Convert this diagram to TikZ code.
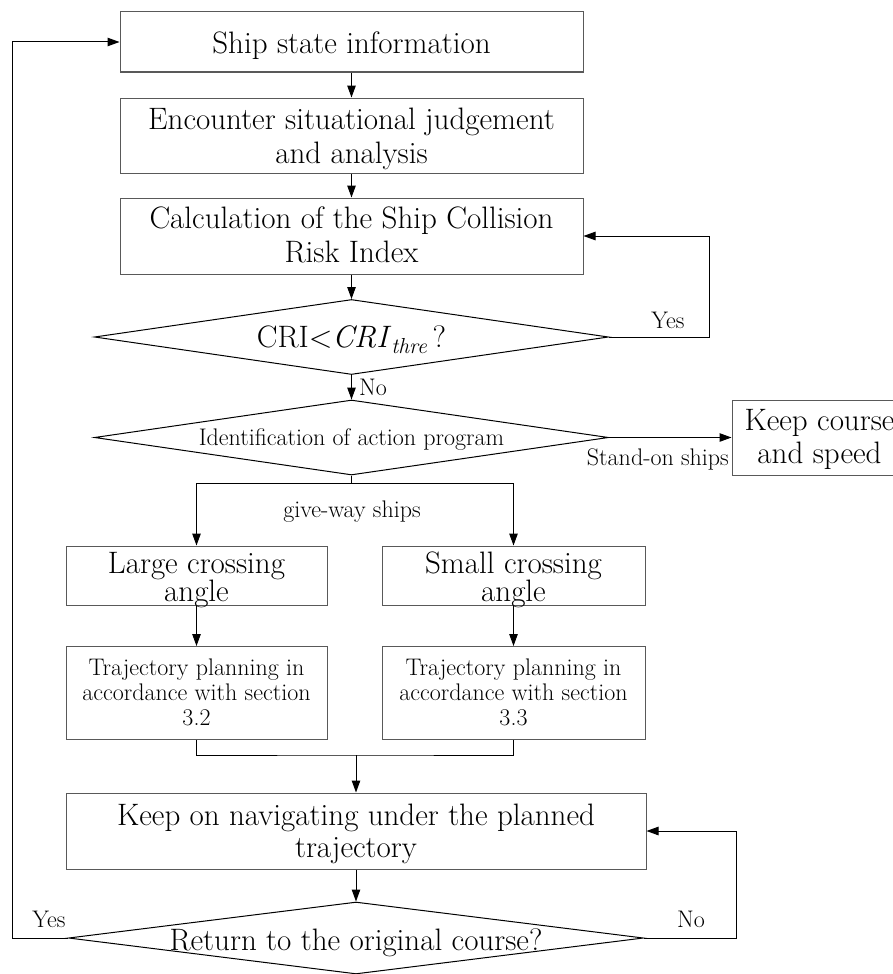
\documentclass[tikz,border=0pt]{standalone}
\usepackage{fontspec}
\usetikzlibrary{arrows.meta,shapes.geometric}
\newcommand\fbig{\fontsize{31}{34}\selectfont}
\newcommand\fsml{\fontsize{24}{25}\selectfont}
\newcommand\mlines[2]{\vtop{\baselineskip=#1\lineskiplimit=-\maxdimen\lineskip=0pt\halign{\hfil##\hfil\cr#2\crcr}}}
\begin{document}
\begin{tikzpicture}[x=1pt,y=-1pt,
  box/.style={draw=black!65, line width=1pt, inner sep=0pt, rectangle},
  dia/.style={draw=black, line width=1pt, inner sep=0pt, diamond},
  txt/.style={inner sep=0pt, anchor=base, font=\fbig},
  lbl/.style={inner sep=0pt, anchor=base, font=\fsml},
  arr/.style={line width=1pt, -{Triangle[length=12pt,width=8.5pt]}},
  ln/.style={line width=1pt}]
\fill[white] (0,0) rectangle (893,974);
\useasboundingbox (0,0) rectangle (893,974);

% boxes and text
\node[box, minimum width=463pt, minimum height=60pt] (n1) at (351.5,42) {};
\node[txt] (t1) at (351.5,53) {Ship state information};
\node[box, minimum width=463pt, minimum height=75pt] (n2) at (351.5,135.5) {};
\node[txt] (t2) at (351.5,129) {\mlines{34pt}{Encounter situational judgement\cr and analysis}};
\node[box, minimum width=463pt, minimum height=76pt] (n3) at (351.5,236) {};
\node[txt] (t3) at (351.5,228) {\mlines{34pt}{Calculation of the Ship Collision\cr Risk Index}};
\node[dia, minimum width=514pt, minimum height=75pt] (d1) at (351.5,337) {};
\node[txt] (t4) at (351.5,347) {CRI<\textit{CRI}\textsubscript{\textit{thre}}\,?};
\node[dia, minimum width=514pt, minimum height=75pt] (d2) at (351.5,437.5) {};
\node[lbl] (t5) at (351.5,445) {Identification of action program};
\node[box, minimum width=175pt, minimum height=75pt] (keep) at (819.5,437.5) {};
\node[txt] (t6) at (819.5,430) {\mlines{33pt}{Keep course\cr and speed}};
\node[box, minimum width=261pt, minimum height=59pt] (lg) at (196.5,575.5) {};
\node[txt] (t7) at (196.5,573) {\mlines{28pt}{Large crossing\cr angle}};
\node[box, minimum width=263pt, minimum height=59pt] (sm) at (513.5,575.5) {};
\node[txt] (t8) at (513.5,573) {\mlines{28pt}{Small crossing\cr angle}};
\node[box, minimum width=261pt, minimum height=93pt] (tr1) at (196.5,693) {};
\node[lbl] (t9) at (196.5,675) {\mlines{25pt}{Trajectory planning in\cr accordance with section\cr 3.2}};
\node[box, minimum width=263pt, minimum height=93pt] (tr2) at (513.5,693) {};
\node[lbl] (t10) at (513.5,675) {\mlines{25pt}{Trajectory planning in\cr accordance with section\cr 3.3}};
\node[box, minimum width=580pt, minimum height=76pt] (kn) at (356,831) {};
\node[txt] (t11) at (356,825) {\mlines{32pt}{Keep on navigating under the planned\cr trajectory}};
\node[dia, minimum width=575pt, minimum height=72pt] (d3) at (356,938) {};
\node[txt] (t12) at (356,950) {Return to the original course?};

% labels
\node[lbl] (l1) at (668,328) {Yes};
\node[lbl, anchor=base west] (l2) at (359,395) {No};
\node[lbl, anchor=base east] (l3) at (729,465) {Stand-on ships};
\node[lbl] (l4) at (352,517) {give-way ships};
\node[lbl] (l5) at (49,927) {Yes};
\node[lbl] (l6) at (691,927) {No};

% connectors
\draw[arr] (n1.south) -- (n2.north);
\draw[arr] (n2.south) -- (n3.north);
\draw[arr] (n3.south) -- (d1.north);
\draw[arr] (d1.south) -- (d2.north);
\coordinate (c1) at (709,337);
\draw[arr] (d1.east) -- (c1) |- (n3.east);
\draw[arr] (d2.east) -- (keep.west);
\coordinate (b) at (351.5,483);
\draw[ln] (d2.south) -- (b);
\draw[arr] (b) -| (lg.north);
\draw[arr] (b) -| (sm.north);
\draw[arr] (lg.south) -- (tr1.north);
\draw[arr] (sm.south) -- (tr2.north);
\coordinate (m) at (356,755);
\draw[ln] (tr1.south) |- (m) -| (tr2.south);
\draw[arr] (m) -- (kn.north);
\draw[arr] (kn.south) -- (d3.north);
\coordinate (r) at (736,938);
\draw[arr] (d3.east) -- (r) |- (kn.east);
\coordinate (lft) at (12,938);
\draw[arr] (d3.west) -- (lft) |- (n1.west);
\end{tikzpicture}
\end{document}
